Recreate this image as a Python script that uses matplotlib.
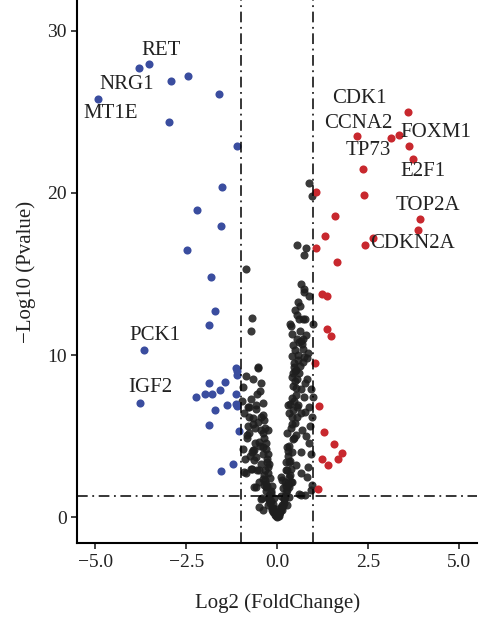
import matplotlib
matplotlib.use("Agg")
import matplotlib.pyplot as plt

plt.rcParams['font.family'] = ['Liberation Serif', 'DejaVu Serif']

# down-regulated genes (blue)
down_x = [-4.93, -3.79, -3.51, -2.93, -2.46, -1.59, -2.98, -1.11, -1.52, -2.19,
          -1.55, -2.49, -1.82, -1.70, -1.86, -3.66, -1.11, -1.11, -1.87, -1.42,
          -1.56, -2.22, -1.97, -1.79, -1.13, -1.37, -1.10, -1.71, -1.87, -1.04,
          -1.21, -1.53, -3.77, -1.13, -1.12]
down_y = [25.8, 27.7, 27.98, 26.9, 27.2, 26.1, 24.4, 22.9, 20.35, 18.93,
          17.94, 16.5, 14.8, 12.73, 11.83, 10.3, 9.03, 8.77, 8.3, 8.33,
          7.84, 7.43, 7.6, 7.59, 7.63, 6.91, 6.85, 6.64, 5.70, 5.33,
          3.31, 2.84, 7.04, 7.0, 9.2]

# up-regulated genes (red)
up_x = [3.60, 2.21, 3.13, 3.35, 3.63, 3.74, 2.37, 2.39, 1.07, 1.58,
        3.94, 3.87, 1.31, 2.65, 2.42, 1.06, 1.64, 1.23, 1.38, 1.36,
        1.47, 1.05, 1.15, 1.30, 1.57, 1.78, 1.68, 1.24, 1.39, 1.13]
up_y = [24.98, 23.5, 23.4, 23.6, 22.9, 22.1, 21.5, 19.9, 20.06, 18.6,
        18.4, 17.7, 17.35, 17.2, 16.8, 16.6, 15.76, 13.75, 13.66, 11.6,
        11.2, 9.5, 6.85, 5.25, 4.5, 3.97, 3.62, 3.58, 3.21, 1.75]

# not significant (black)
ns_x = [0.88, 0.95, 0.56, 0.79, 0.73, -0.86, 0.75, 0.89, 0.73, -0.69,
        -0.72, 0.60, 0.71, 0.78, 0.99, 0.62, 0.79, 0.60, 0.48, 0.71,
        0.42, 0.85, 0.46, -0.52, -0.86, -0.65, 0.42, 0.54, 0.83, -0.95,
        0.65, 0.92, 0.51, 0.74, 0.98, 0.42, -0.40, -0.58, -0.78, 0.57,
        0.87, -0.77, -0.40, 0.33, 0.65, 0.96, -0.67, 0.42, -0.77, -0.26,
        0.28, 0.51, 0.87, -0.95, -0.67, -0.40, 0.28, 0.65, 0.92, -0.63,
        -0.45, -0.22, 0.33, 0.51, -0.90, -0.49, 0.24, 0.65, 0.83, -0.40,
        0.14, 0.42, -0.63, -0.31, 0.33, 0.65, 0.92, -0.45, -0.22, 0.33,
        -0.49, -0.26, -0.13, 0.01, 0.14, 0.28, -0.40, -0.81, -0.58, -0.45,
        -0.33, -0.49, -0.63, -0.31, -0.86, -0.26, -0.58, -0.31, -0.22, 0.46,
        0.60, 0.78, 0.56, 0.69, 0.37, 0.60, 0.78, 0.10, -0.53, -0.35,
        -0.30, -0.25, -0.20, -0.15, -0.10, -0.05, 0.05, 0.08, 0.12, 0.18,
        0.22, 0.26, 0.30, 0.35, 0.38, -0.18, -0.12, -0.08, 0.02, 0.06,
        0.16, 0.20, -0.35, -0.28, 0.24, 0.30, 0.44, 0.50, 0.40, 0.36,
        0.52, 0.48, 0.58, 0.66, -0.38, -0.55, -0.70, -0.60, 0.70, 0.62,
        0.54, 0.38, 0.32, 0.45, 0.55, -0.42, -0.50, -0.36, -0.75, 0.82,
        # extra points in the dense V
        -0.32, -0.27, -0.22, -0.17, -0.12, -0.07, -0.02, 0.03, 0.09, 0.14,
        0.19, 0.24, 0.29, 0.34, -0.24, -0.19, -0.14, -0.09, 0.11, 0.17,
        0.21, 0.27, -0.29, -0.34, -0.40, -0.44, -0.37, -0.31, 0.31, 0.36,
        0.41, 0.46, 0.39, 0.43, 0.47, 0.50, 0.53, 0.45, 0.40, 0.35,
        0.49, 0.57, 0.63, 0.68, 0.72, 0.76, 0.80, 0.85, 0.90, 0.95,
        -0.46, -0.53, -0.57, -0.62, -0.68, -0.73, -0.80, -0.84, -0.92, -0.97,
        -0.56, -0.48, -0.43, -0.66, -0.71, -0.88, -0.82, 0.58, 0.66, 0.73,
        -0.04, 0.00, 0.04, -0.16, 0.12, 0.25, -0.26, 0.30, 0.44, 0.55]
ns_y = [20.6, 19.8, 16.8, 16.6, 16.2, 15.3, 14.05, 13.66, 13.9, 12.3,
        11.5, 12.2, 12.2, 12.2, 11.9, 11.5, 11.25, 10.8, 10.3, 10.4,
        9.94, 10.1, 9.28, 9.24, 8.72, 8.5, 8.66, 8.5, 8.5, 8.04,
        7.88, 7.94, 7.53, 7.43, 7.43, 7.33, 7.02, 6.91, 6.81, 6.91,
        6.81, 6.19, 6.3, 6.4, 6.4, 6.19, 5.78, 5.78, 5.17, 5.37,
        5.17, 5.06, 4.55, 4.24, 4.14, 4.34, 4.34, 4.03, 3.93, 3.52,
        3.31, 3.31, 3.41, 3.21, 2.80, 2.90, 2.90, 2.70, 2.49, 2.39,
        2.28, 2.18, 1.87, 1.87, 1.87, 1.36, 1.67, 1.15, 1.25, 1.25,
        0.64, 0.74, 0.43, 0.02, 0.43, 0.74, 0.43, 6.81, 6.7, 6.19,
        5.53, 4.65, 4.14, 4.24, 2.70, 2.70, 1.87, 2.08, 1.05, 9.49,
        8.87, 8.25, 6.19, 5.37, 2.18, 1.46, 1.36, 0.64, 9.2, 2.6,
        1.6, 1.2, 0.9, 0.6, 0.35, 0.15, 0.1, 0.3, 0.5, 0.9,
        1.3, 1.7, 2.1, 2.6, 3.0, 1.5, 0.8, 0.3, 0.05, 0.2,
        0.7, 1.1, 2.0, 3.6, 1.9, 3.8, 4.8, 5.8, 6.2, 7.0,
        8.0, 9.0, 9.7, 10.9, 5.2, 7.6, 3.0, 4.6, 11.0, 13.0,
        12.5, 11.8, 4.4, 8.1, 6.8, 1.2, 2.2, 6.0, 3.8, 9.8,
        2.3, 1.9, 1.4, 1.0, 0.55, 0.25, 0.08, 0.15, 0.4, 0.75,
        1.1, 1.55, 2.0, 2.5, 3.1, 2.4, 1.9, 1.2, 1.3, 1.8,
        2.2, 2.9, 3.4, 2.9, 3.9, 5.4, 4.9, 4.6, 4.1, 3.5,
        4.0, 4.9, 5.5, 6.6, 7.2, 8.4, 9.1, 10.6, 11.3, 11.9,
        12.8, 10.0, 9.3, 10.7, 9.6, 6.5, 5.0, 3.1, 5.6, 2.0,
        4.4, 5.9, 3.7, 5.5, 4.0, 3.0, 5.6, 4.9, 6.4, 7.2,
        2.9, 7.8, 8.3, 6.1, 7.3, 3.6, 5.1, 13.3, 14.4, 9.9,
        0.3, 0.5, 0.2, 1.6, 2.5, 3.4, 3.9, 6.9, 8.9, 11.0]

labels = ["RET", "NRG1", "MT1E", "CDK1", "CCNA2", "FOXM1", "TP73",
          "E2F1", "TOP2A", "CDKN2A", "PCK1", "IGF2"]
label_x = [-3.20, -4.13, -4.59, 2.27, 2.24, 4.37, 2.51, 4.02, 4.15, 3.72, -3.36, -3.50]
label_y = [28.8, 26.7, 24.9, 25.8, 24.3, 23.7, 22.6, 21.3, 19.2, 16.9, 11.2, 8.0]

fig = plt.figure(figsize=(4.79, 6.18), dpi=100)
ax = fig.add_axes([0.161, 0.121, 0.835, 0.879])

ax.scatter(ns_x, ns_y, s=34, color="#1e1e1e", alpha=0.88, linewidths=0)
ax.scatter(down_x, down_y, s=34, color="#3a4d9f", linewidths=0)
ax.scatter(up_x, up_y, s=34, color="#c8282e", linewidths=0)

for t, x, y in zip(labels, label_x, label_y):
    ax.text(x, y, t, fontsize=15, color="#222222", ha="center", va="center")

dd = (0, (7, 3, 1.2, 3))
ax.axvline(-1, color="black", lw=1.1, ls=dd)
ax.axvline(1, color="black", lw=1.1, ls=dd)
ax.axhline(1.3, color="black", lw=1.1, ls=dd)

ax.set_xlim(-5.5, 5.5)
ax.set_ylim(-1.6, 31.9)
ax.set_xticks([-5.0, -2.5, 0.0, 2.5, 5.0])
ax.set_xticklabels(["\u22125.0", "\u22122.5", "0.0", "2.5", "5.0"])
ax.set_yticks([0, 10, 20, 30])

for side in ["top", "right"]:
    ax.spines[side].set_visible(False)
for side in ["left", "bottom"]:
    ax.spines[side].set_linewidth(1.5)
ax.tick_params(labelsize=14, length=4, width=1.2, colors="#222222")

ax.set_xlabel("Log2 (FoldChange)", fontsize=15, color="#222222", labelpad=16)
ax.set_ylabel("\u2212Log10 (Pvalue)", fontsize=15, color="#222222", labelpad=8)

fig.savefig("out.png", dpi=100)
